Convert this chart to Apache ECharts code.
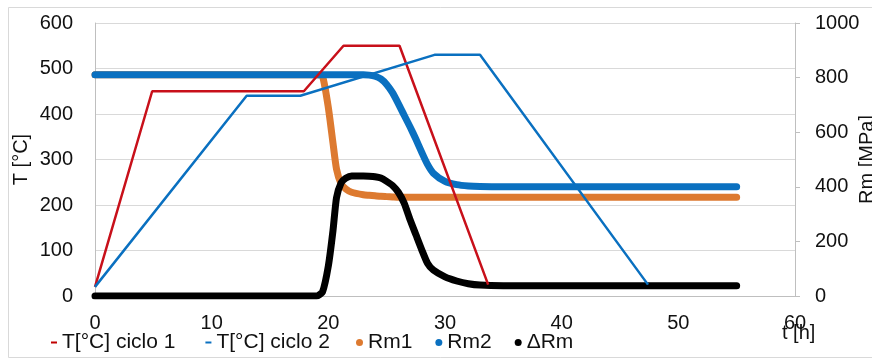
<!DOCTYPE html>
<html>
<head>
<meta charset="utf-8">
<script src="https://cdn.jsdelivr.net/npm/echarts@6/dist/echarts.min.js"></script>
<style>
html, body { margin: 0; padding: 0; background: #fff; }
#chart { width: 872px; height: 361px; }
</style>
</head>
<body>
<div id="chart"></div>
<script>
// temperature cycles (left axis, °C)
var tempTime1 = [0, 4.9, 17.9, 21.3, 26.1, 33.7];
var tempCiclo1 = [20, 450, 450, 550, 550, 25];
var tempTime2 = [0, 13, 17.6, 29.1, 33, 47.4];
var tempCiclo2 = [20, 440, 440, 530, 530, 25];

// strength curves (right axis, MPa)
var rmTime = [0, 19, 19.5, 20, 20.4, 20.7, 21.1, 21.5, 22, 23, 23.5, 24, 24.5, 25, 25.5, 26, 26.5, 27, 27.5, 28, 28.5, 29, 30, 31, 32, 33, 35, 55];
var rm1 = [810, 810, 805, 690, 560, 465, 410, 392, 380, 371, 369, 367, 365, 364, 363, 362, 362, 362, 362, 362, 362, 362, 362, 362, 362, 362, 362, 362];
var rm2 = [810, 810, 810, 810, 810, 810, 810, 810, 810, 810, 809, 805, 795, 775, 745, 705, 662, 620, 575, 527, 482, 450, 420, 408, 403, 401, 400, 400];
var deltaRm = [0, 0, 15, 110, 240, 360, 415, 432, 440, 440, 439, 437, 432, 420, 405, 380, 340, 280, 225, 170, 120, 95, 70, 55, 45, 40, 38, 38];

var xTicks = { min: 0, max: 60, step: 10 };

function pairs(xs, ys) {
    return xs.map(function (x, i) { return [x, ys[i]]; });
}

var chart = echarts.init(document.getElementById('chart'));
var font = "'Liberation Sans', Arial, sans-serif";
var txt = { color: '#111', fontSize: 20, fontFamily: font };
var legendTxt = { color: '#111', fontSize: 21, fontFamily: font };

var option = {
    backgroundColor: '#fff',
    animation: false,
    graphic: [{
        type: 'rect',
        shape: { x: 8.5, y: 7.5, width: 900, height: 350 },
        style: { fill: 'none', stroke: '#d9d9d9', lineWidth: 1 },
        silent: true
    }],
    grid: { left: 95, right: 77, top: 23, bottom: 65, outerBoundsMode: 'none', containLabel: false },
    legend: [{
        left: 46, top: 327,
        itemWidth: 6, itemHeight: 2, itemGap: 30,
        icon: 'rect',
        textStyle: legendTxt,
        data: ['T[°C] ciclo 1', 'T[°C] ciclo 2']
    }, {
        left: 351, top: 327,
        itemWidth: 7, itemHeight: 7, itemGap: 23,
        icon: 'circle',
        textStyle: legendTxt,
        data: ['Rm1', 'Rm2', 'ΔRm']
    }],
    xAxis: {
        type: 'value',
        min: xTicks.min, max: xTicks.max, interval: xTicks.step,
        name: 't [h]',
        nameLocation: 'end',
        nameGap: -13,
        nameMoveOverlap: false,
        nameTextStyle: { color: '#111', fontSize: 20, fontFamily: font, align: 'left', verticalAlign: 'top', lineHeight: 74 },
        axisLine: { lineStyle: { color: '#bfbfbf', width: 1 } },
        axisTick: { show: false },
        splitLine: { show: false },
        axisLabel: Object.assign({ margin: 17 }, txt)
    },
    yAxis: [{
        type: 'value',
        min: 0, max: 600, interval: 100,
        name: 'T [°C]',
        nameLocation: 'middle',
        nameRotate: 90,
        nameGap: 64,
        nameMoveOverlap: false,
        nameTextStyle: txt,
        axisLine: { show: true, lineStyle: { color: '#bfbfbf' } },
        axisTick: { show: false },
        splitLine: { lineStyle: { color: '#d9d9d9' } },
        axisLabel: Object.assign({ margin: 22 }, txt)
    }, {
        type: 'value',
        min: 0, max: 1000, interval: 200,
        name: 'Rm [MPa]',
        nameLocation: 'middle',
        nameRotate: 90,
        nameGap: 62,
        nameMoveOverlap: false,
        nameTextStyle: txt,
        position: 'right',
        axisLine: { show: true, lineStyle: { color: '#bfbfbf' } },
        axisTick: { show: true, length: 5, lineStyle: { color: '#bfbfbf' } },
        splitLine: { show: false },
        axisLabel: Object.assign({ margin: 20, formatter: function (v) { return String(v); } }, txt)
    }],
    series: [{
        name: 'Rm1', type: 'line', yAxisIndex: 1, z: 2,
        data: pairs(rmTime, rm1),
        showSymbol: false, smooth: 0.2,
        itemStyle: { color: '#dd7a30' },
        lineStyle: { color: '#dd7a30', width: 7, cap: 'round', join: 'round' }
    }, {
        name: 'Rm2', type: 'line', yAxisIndex: 1, z: 2,
        data: pairs(rmTime, rm2),
        showSymbol: false, smooth: 0.2,
        itemStyle: { color: '#0a70c0' },
        lineStyle: { color: '#0a70c0', width: 7, cap: 'round', join: 'round' }
    }, {
        name: 'ΔRm', type: 'line', yAxisIndex: 1, z: 2,
        data: pairs(rmTime, deltaRm),
        showSymbol: false, smooth: 0.2,
        itemStyle: { color: '#000' },
        lineStyle: { color: '#000', width: 7, cap: 'round', join: 'round' }
    }, {
        name: 'T[°C] ciclo 1', type: 'line', yAxisIndex: 0, z: 3,
        data: pairs(tempTime1, tempCiclo1),
        showSymbol: false,
        itemStyle: { color: '#c00000' },
        lineStyle: { color: '#c8101a', width: 2.5 }
    }, {
        name: 'T[°C] ciclo 2', type: 'line', yAxisIndex: 0, z: 3,
        data: pairs(tempTime2, tempCiclo2),
        showSymbol: false,
        itemStyle: { color: '#0a70c0' },
        lineStyle: { color: '#0a70c0', width: 2.5 }
    }]
};

chart.setOption(option);
window.addEventListener('resize', function () {
    chart.resize();
});
</script>
</body>
</html>
